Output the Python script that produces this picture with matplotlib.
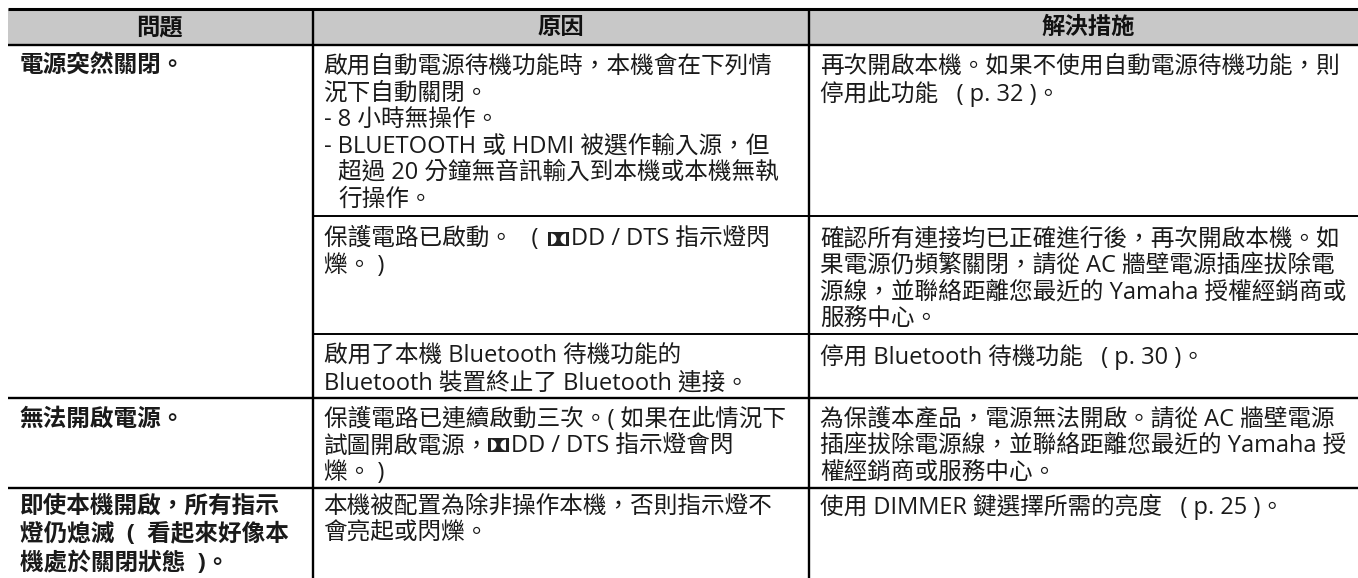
import matplotlib
matplotlib.use('Agg')
import matplotlib.pyplot as plt
from matplotlib.patches import Rectangle, Wedge

plt.rcParams['font.family'] = ['Open Sans', 'Noto Sans CJK TC']

W, H = 1358, 578

# ============================== Table content ================================
headers = [(160, '問題'), (561, '原因'), (1088, '解決措施')]

problems = [
    (67, ['電源突然關閉。']),
    (420, ['無法開啟電源。']),
    (507, ['即使本機開啟\uff0c所有指示', '燈仍熄滅  (  看起來好像本', '機處於關閉狀態  )。']),
]

# y of first line, x, lines
causes = [
    (67, 323.5, ['啟用自動電源待機功能時\uff0c本機會在下列情', '況下自動關閉。', '- 8 小時無操作。', '- BLUETOOTH 或 HDMI 被選作輸入源\uff0c但']),
    (173, 338, ['超過 20 分鐘無音訊輸入到本機或本機無執', '行操作。']),
    (239, 323.5, ['保護電路已啟動。   (', '爍。 )']),
    (239, 571, ['DD / DTS 指示燈閃']),
    (357, 323.5, ['啟用了本機 Bluetooth 待機功能的', 'Bluetooth 裝置終止了 Bluetooth 連接。']),
    (420, 323.5, ['保護電路已連續啟動三次。( 如果在此情況下', '試圖開啟電源\uff0c', '爍。 )']),
    (446, 511, ['DD / DTS 指示燈會閃']),
    (507, 323.5, ['本機被配置為除非操作本機\uff0c否則指示燈不', '會亮起或閃爍。']),
]

solutions = [
    (67, ['再次開啟本機。如果不使用自動電源待機功能\uff0c則', '停用此功能   ( p. 32 )。']),
    (239, ['確認所有連接均已正確進行後\uff0c再次開啟本機。如', '果電源仍頻繁關閉\uff0c請從 AC 牆壁電源插座拔除電',
           '源線\uff0c並聯絡距離您最近的 Yamaha 授權經銷商或', '服務中心。']),
    (357, ['停用 Bluetooth 待機功能   ( p. 30 )。']),
    (420, ['為保護本產品\uff0c電源無法開啟。請從 AC 牆壁電源', '插座拔除電源線\uff0c並聯絡距離您最近的 Yamaha 授',
           '權經銷商或服務中心。']),
    (507, ['使用 DIMMER 鍵選擇所需的亮度   ( p. 25 )。']),
]

# Dolby icon positions (x, y of top-left corner)
icons = [(548, 232), (488, 438)]

# ============================== Geometry =====================================
x_left, x_col1, x_col2, x_right = 8, 313, 809, W
y_top, y_head = 9, 45
y_rows = [398, 488]
y_sub = [216, 334]
line_h = 26.6
size = 17

fig = plt.figure(figsize=(W / 100, H / 100), dpi=100)
ax = fig.add_axes([0, 0, 1, 1])
ax.set_xlim(0, W)
ax.set_ylim(H, 0)
ax.axis('off')

ax.add_patch(Rectangle((x_left, y_top), x_right - x_left, y_head - y_top, fc='#c8c8c8', ec='none'))

for x, h in headers:
    ax.text(x, 28, h, ha='center', va='center', fontsize=16.8, fontweight='bold', color='#111111')

# lines
ax.hlines(y_top, x_left, x_right, color='black', lw=2.2)
ax.hlines([y_head] + y_rows, x_left, x_right, color='black', lw=1.7)
ax.hlines(y_sub, x_col1, x_right, color='black', lw=1.4)
ax.vlines([x_col1, x_col2], y_top, H, color='black', lw=1.7)


def put(x, y, lines, step=line_h, **kw):
    for i, s in enumerate(lines):
        ax.text(x, y + i * step, s, ha='left', va='center', color='#1a1a1a', **kw)


for y, lines in problems:
    put(19.5, y, lines, step=28.5, fontsize=size, fontweight='bold')
for y, x, lines in causes:
    put(x, y, lines, fontsize=size)
for y, lines in solutions:
    put(820.5, y, lines, fontsize=size)

# Dolby double-D mark
for x, y in icons:
    ax.add_patch(Rectangle((x, y), 21, 14, fc='#222222', ec='none'))
    ax.add_patch(Wedge((x + 3, y + 7), 5.5, -90, 90, fc='white', ec='none'))
    ax.add_patch(Wedge((x + 18, y + 7), 5.5, 90, 270, fc='white', ec='none'))

fig.savefig('out.png', dpi=100)
